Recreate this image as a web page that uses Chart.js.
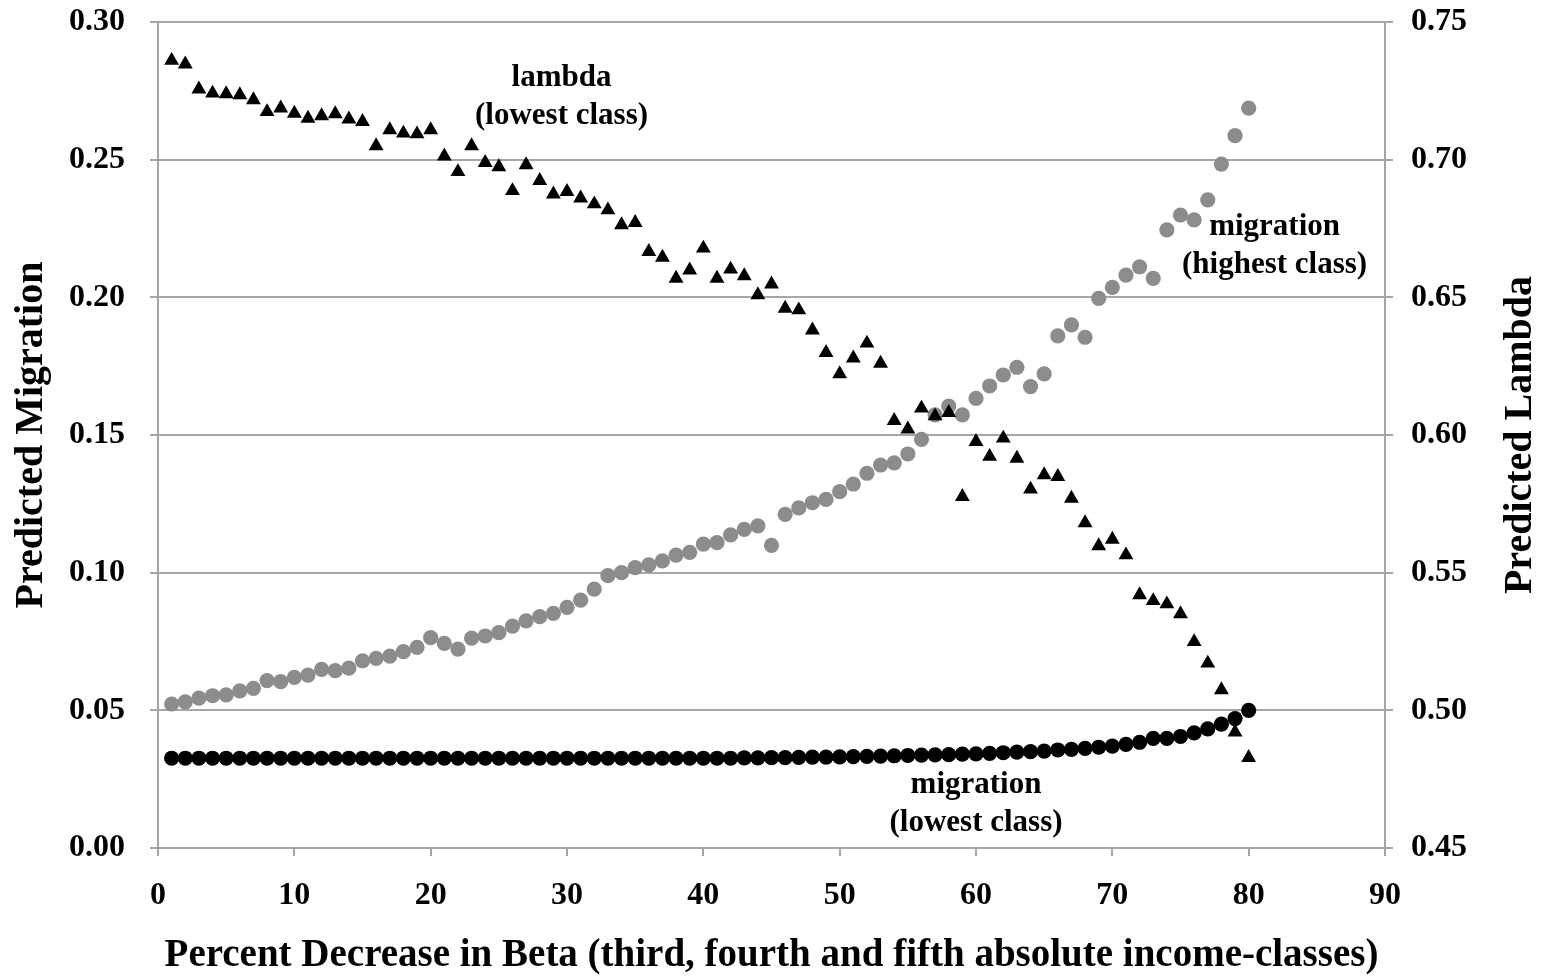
<!DOCTYPE html>
<html>
<head>
<meta charset="utf-8">
<script src="https://cdn.jsdelivr.net/npm/chart.js@4/dist/chart.umd.min.js"></script>
<style>
  html, body { margin: 0; padding: 0; background: #ffffff; }
  canvas { display: block; }
</style>
</head>
<body>
<canvas id="c" width="1541" height="979"></canvas>
<script>
// ---- data ----
const percentDecrease = [1,2,3,4,5,6,7,8,9,10,11,12,13,14,15,16,17,18,19,20,
  21,22,23,24,25,26,27,28,29,30,31,32,33,34,35,36,37,38,39,40,
  41,42,43,44,45,46,47,48,49,50,51,52,53,54,55,56,57,58,59,60,
  61,62,63,64,65,66,67,68,69,70,71,72,73,74,75,76,77,78,79,80];

const lambdaLowest = [0.736,0.7347,0.7256,0.7241,0.7239,0.7235,0.7217,0.7174,0.7187,0.7168,
  0.715,0.7159,0.7166,0.7147,0.7138,0.705,0.7108,0.7096,0.7093,0.7108,
  0.7013,0.6956,0.705,0.6989,0.6974,0.6887,0.6981,0.6924,0.6875,0.6884,
  0.686,0.6839,0.6817,0.6763,0.6771,0.6666,0.6645,0.6569,0.6599,0.6678,
  0.6569,0.6602,0.6578,0.6509,0.6548,0.646,0.6454,0.6381,0.6299,0.6222,
  0.6279,0.6333,0.626,0.6052,0.6021,0.6097,0.6069,0.6081,0.5776,0.5976,
  0.5922,0.5988,0.5915,0.5803,0.5855,0.5849,0.577,0.5681,0.5597,0.5621,
  0.5564,0.5419,0.5398,0.5386,0.535,0.5249,0.5171,0.5074,0.4921,0.4828];

const migrationHighest = [0.0523,0.0531,0.0544,0.0553,0.0556,0.0571,0.058,0.0608,0.0604,0.062,
  0.0628,0.0649,0.0644,0.0653,0.068,0.0689,0.0697,0.0713,0.0729,0.0764,
  0.0743,0.0722,0.0762,0.077,0.0782,0.0806,0.0825,0.084,0.0852,0.0874,
  0.09,0.094,0.0989,0.1,0.1018,0.1028,0.1043,0.1064,0.1074,0.1104,
  0.1109,0.1137,0.1157,0.117,0.1099,0.1212,0.1235,0.1254,0.1266,0.1294,
  0.1322,0.1361,0.1391,0.1399,0.1431,0.1484,0.1573,0.1605,0.1573,0.1633,
  0.1678,0.1718,0.1746,0.1676,0.1722,0.186,0.19,0.1855,0.1996,0.2036,
  0.2081,0.2111,0.2069,0.2245,0.2299,0.2281,0.2354,0.2484,0.2587,0.2687];

const migrationLowest = [0.0326,0.0326,0.0326,0.0326,0.0326,0.0326,0.0326,0.0326,0.0326,0.0326,
  0.0326,0.0326,0.0326,0.0326,0.0326,0.0326,0.0326,0.0326,0.0326,0.0326,
  0.0326,0.0326,0.0326,0.0326,0.0326,0.0326,0.0326,0.0326,0.0326,0.0326,
  0.0326,0.0326,0.0326,0.0326,0.0326,0.0326,0.0326,0.0326,0.0326,0.0326,
  0.0326,0.0326,0.0327,0.0327,0.0328,0.0328,0.0329,0.033,0.033,0.0331,
  0.0332,0.0333,0.0334,0.0335,0.0336,0.0337,0.0338,0.0339,0.0341,0.0342,
  0.0344,0.0346,0.0348,0.035,0.0352,0.0356,0.0358,0.0362,0.0366,0.037,
  0.0376,0.0384,0.0398,0.0398,0.0405,0.0418,0.0433,0.045,0.047,0.05];

const xTickValues = [0,10,20,30,40,50,60,70,80,90];
const leftTickValues = [0.00,0.05,0.10,0.15,0.20,0.25,0.30];
const rightTickValues = [0.45,0.50,0.55,0.60,0.65,0.70,0.75];

const xTitle = 'Percent Decrease in Beta (third, fourth and fifth absolute income-classes)';
const leftTitle = 'Predicted Migration';
const rightTitle = 'Predicted Lambda';

const annotationLines = [
  ['lambda', '(lowest class)'],
  ['migration', '(highest class)'],
  ['migration', '(lowest class)']
];
const annotationAnchorX = [29.6, 81.9, 60.0];
const annotationAnchorY = [0.2729, 0.2188, 0.016];

// ---- chart ----
const FONT = "'Liberation Serif', 'Times New Roman', Times, serif";
const GRID = '#a6a6a6';
const pts = (ys) => ys.map((y, i) => ({ x: percentDecrease[i], y }));

const labelsPlugin = {
  id: 'labelsPlugin',
  afterDraw(chart) {
    const ctx = chart.ctx;
    const xs = chart.scales.x, ys = chart.scales.y;
    ctx.save();
    ctx.fillStyle = '#000';
    ctx.font = 'bold 31px ' + FONT;
    ctx.textAlign = 'center';
    ctx.textBaseline = 'middle';
    const lh = 38;
    annotationLines.forEach((lines, i) => {
      const cx = xs.getPixelForValue(annotationAnchorX[i]);
      const cy = ys.getPixelForValue(annotationAnchorY[i]);
      const y0 = cy - (lines.length - 1) * lh / 2;
      lines.forEach((t, j) => ctx.fillText(t, cx, y0 + j * lh));
    });
    // right axis title, reading bottom-to-top
    const ry = chart.scales.y1;
    ctx.font = 'bold 40px ' + FONT;
    ctx.translate(ry.right - 20, (ry.top + ry.bottom) / 2);
    ctx.rotate(-Math.PI / 2);
    ctx.fillText(rightTitle, 0, 0);
    ctx.restore();
  }
};

function fixY(width) {
  return function (s) { s.width = width; s.paddingTop = 0; s.paddingBottom = 0; };
}

new Chart(document.getElementById('c'), {
  type: 'scatter',
  data: {
    datasets: [
      {
        label: 'lambda (lowest class)',
        data: pts(lambdaLowest),
        yAxisID: 'y1',
        pointStyle: 'triangle',
        pointRadius: 8.6,
        pointBackgroundColor: '#000000',
        pointBorderWidth: 0,
        order: 0
      },
      {
        label: 'migration (highest class)',
        data: pts(migrationHighest),
        yAxisID: 'y',
        pointStyle: 'circle',
        pointRadius: 7.6,
        pointBackgroundColor: '#8c8c8c',
        pointBorderWidth: 0,
        order: 1
      },
      {
        label: 'migration (lowest class)',
        data: pts(migrationLowest),
        yAxisID: 'y',
        pointStyle: 'circle',
        pointRadius: 7.6,
        pointBackgroundColor: '#000000',
        pointBorderWidth: 0,
        order: 2
      }
    ]
  },
  options: {
    responsive: false,
    animation: false,
    devicePixelRatio: 1,
    layout: { padding: { top: 22, left: 0, right: 0, bottom: 0 } },
    plugins: { legend: { display: false }, tooltip: { enabled: false } },
    scales: {
      x: {
        type: 'linear',
        min: 0, max: 90,
        afterFit(s) { s.height = 131; },
        afterBuildTicks(s) { s.ticks = xTickValues.map(v => ({ value: v })); },
        ticks: {
          color: '#000',
          padding: 21,
          font: { family: FONT, size: 32, weight: 'bold' },
          callback: (v) => String(v)
        },
        grid: { drawOnChartArea: false, drawTicks: true, tickLength: 8, color: GRID, lineWidth: 2 },
        border: { display: true, color: GRID, width: 2 },
        title: {
          display: true, text: xTitle, color: '#000',
          font: { family: FONT, size: 39, weight: 'bold' },
          padding: { top: 0, bottom: 0 }
        }
      },
      y: {
        position: 'left',
        min: 0, max: 0.30,
        afterFit: fixY(158),
        afterBuildTicks(s) { s.ticks = leftTickValues.map(v => ({ value: v })); },
        ticks: {
          color: '#000',
          padding: 25,
          font: { family: FONT, size: 32, weight: 'bold' },
          callback: (v) => Number(v).toFixed(2)
        },
        grid: { drawOnChartArea: true, drawTicks: true, tickLength: 8, color: GRID, lineWidth: 2 },
        border: { display: true, color: GRID, width: 2 },
        title: {
          display: true, text: leftTitle, color: '#000',
          font: { family: FONT, size: 40, weight: 'bold' },
          padding: { top: 8, bottom: 0 }
        }
      },
      y1: {
        position: 'right',
        min: 0.45, max: 0.75,
        afterFit: fixY(156),
        afterBuildTicks(s) { s.ticks = rightTickValues.map(v => ({ value: v })); },
        ticks: {
          color: '#000',
          padding: 18,
          font: { family: FONT, size: 32, weight: 'bold' },
          callback: (v) => Number(v).toFixed(2)
        },
        grid: { drawOnChartArea: false, drawTicks: true, tickLength: 8, color: GRID, lineWidth: 2 },
        border: { display: true, color: GRID, width: 2 }
      }
    }
  },
  plugins: [labelsPlugin]
});
</script>
</body>
</html>
